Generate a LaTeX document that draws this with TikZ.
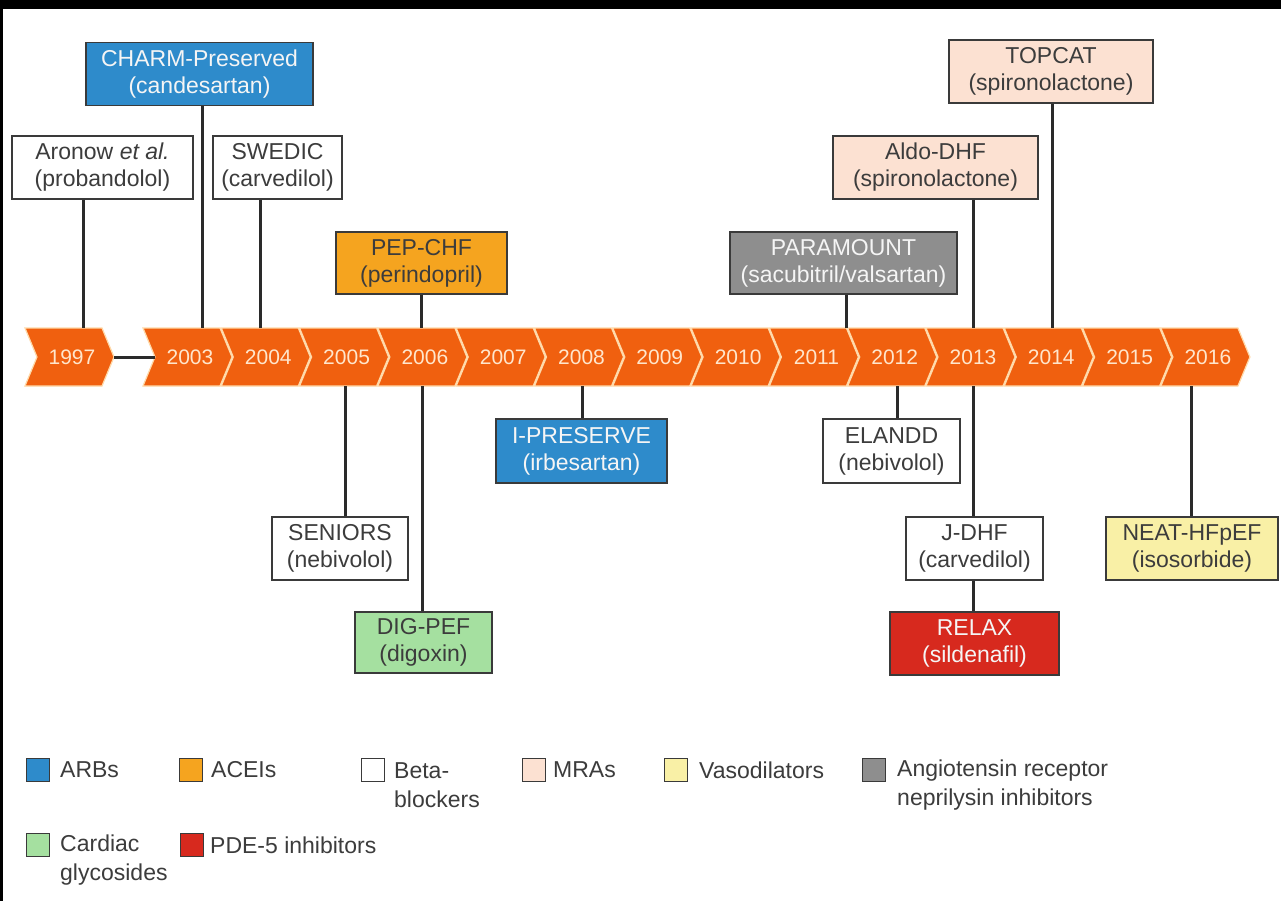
\documentclass[tikz,border=0pt]{standalone}
\usepackage{fontspec}
\setmainfont{Liberation Sans}
\definecolor{arb}{HTML}{2E8BCB}
\definecolor{ace}{HTML}{F5A41F}
\definecolor{mra}{HTML}{FCE1D2}
\definecolor{vaso}{HTML}{F9F0A6}
\definecolor{arni}{HTML}{8E8E8E}
\definecolor{glyco}{HTML}{A5E0A0}
\definecolor{pde}{HTML}{D7291E}
\definecolor{tl}{HTML}{F0600F}
\definecolor{cream}{HTML}{FFD9A8}
\definecolor{yeartext}{HTML}{FFE6CC}
\definecolor{boxline}{HTML}{3A3A3A}
\definecolor{txt}{HTML}{3C3C3C}
\definecolor{conn}{HTML}{2A2A2A}
\begin{document}
\begin{tikzpicture}[x=1pt,y=-1pt,
  box/.style={draw=boxline, line width=1.6pt, minimum height=63pt, align=center,
    inner sep=0pt, font=\fontsize{23}{27}\selectfont, text=txt},
  light/.style={text=white!92!gray},
  chev/.style={fill=tl, draw=cream, line width=1.2pt},
  yeartxt/.style={font=\fontsize{21}{25}\selectfont, text=yeartext, inner sep=0pt},
  link/.style={draw=conn, line width=3pt},
  legsq/.style={draw=boxline, line width=1.5pt, minimum width=23pt, minimum height=23pt, inner sep=0pt},
  legtxt/.style={font=\fontsize{23}{29}\selectfont, text=txt, anchor=west, align=left, inner sep=0pt}]
\useasboundingbox (0,0) rectangle (1281,901);
\fill[black] (0,0) rectangle (1281,901);
\fill[white] (3,9) rectangle (1281,901);

% timeline
\filldraw[chev] (25,328) -- ++(77,0) -- ++(12,29) -- ++(-12,29) -- ++(-77,0) -- ++(12,-29) -- cycle;
\node[yeartxt] (y1997) at (72,357) {1997};
\foreach \yr [count=\k from 0] in {2003,...,2016} {
  \pgfmathsetmacro\L{143+\k*78.3}
  \filldraw[chev] (\L,328) -- ++(77,0) -- ++(12,29) -- ++(-12,29) -- ++(-77,0) -- ++(12,-29) -- cycle;
  \node[yeartxt] (y\yr) at ({\L+47},357) {\yr};
}
\coordinate (tip1997) at (114,357);
\coordinate (notch2003) at (155,357);
\draw[link] (tip1997) -- (notch2003);

% boxes above
\node[box, fill=arb, light, minimum width=227pt] (charm) at (199.5,74) {CHARM-Preserved\\(candesartan)};
\node[box, fill=white, minimum width=181pt] (aronow) at (102.5,167.5) {Aronow \textit{et al.}\\(probandolol)};
\node[box, fill=white, minimum width=129pt] (swedic) at (277.5,167.5) {SWEDIC\\(carvedilol)};
\node[box, fill=ace, minimum width=171pt, minimum height=62pt] (pep) at (421.5,263) {PEP-CHF\\(perindopril)};
\node[box, fill=arni, light, minimum width=227pt, minimum height=62pt] (paramount) at (843.5,263) {PARAMOUNT\\(sacubitril/valsartan)};
\node[box, fill=mra, minimum width=205pt] (aldo) at (935.5,167.5) {Aldo-DHF\\(spironolactone)};
\node[box, fill=mra, minimum width=204pt] (topcat) at (1051,71.5) {TOPCAT\\(spironolactone)};

% boxes below
\node[box, fill=white, minimum width=136pt] (seniors) at (340,548.5) {SENIORS\\(nebivolol)};
\node[box, fill=glyco, minimum width=137pt, minimum height=61pt] (digpef) at (423.5,642.5) {DIG-PEF\\(digoxin)};
\node[box, fill=arb, light, minimum width=171pt, minimum height=64pt] (ipreserve) at (581.5,451) {I-PRESERVE\\(irbesartan)};
\node[box, fill=white, minimum width=137pt, minimum height=64pt] (elandd) at (891.5,451) {ELANDD\\(nebivolol)};
\node[box, fill=white, minimum width=137pt] (jdhf) at (974.5,548.5) {J-DHF\\(carvedilol)};
\node[box, fill=pde, light, minimum width=169pt] (relax) at (974.5,643.5) {RELAX\\(sildenafil)};
\node[box, fill=vaso, minimum width=172pt] (neat) at (1192,548.5) {NEAT-HFpEF\\(isosorbide)};

% connector end points on the timeline
\coordinate (t1997) at (83,328);
\coordinate (t2003) at (202,328);
\coordinate (t2004) at (260,328);
\coordinate (t2006) at (421,328);
\coordinate (t2011) at (846,328);
\coordinate (t2013) at (973,328);
\coordinate (t2014) at (1052,328);
\coordinate (b2005) at (345,386);
\coordinate (b2006) at (422,386);
\coordinate (b2008) at (582,386);
\coordinate (b2012) at (897,386);
\coordinate (b2013) at (973,386);
\coordinate (b2016) at (1191,386);

\draw[link] (aronow.south -| t1997) -- (t1997);
\draw[link] (charm.south -| t2003) -- (t2003);
\draw[link] (swedic.south -| t2004) -- (t2004);
\draw[link] (pep.south -| t2006) -- (t2006);
\draw[link] (paramount.south -| t2011) -- (t2011);
\draw[link] (aldo.south -| t2013) -- (t2013);
\draw[link] (topcat.south -| t2014) -- (t2014);
\draw[link] (b2005) -- (seniors.north -| b2005);
\draw[link] (b2006) -- (digpef.north -| b2006);
\draw[link] (b2008) -- (ipreserve.north -| b2008);
\draw[link] (b2012) -- (elandd.north -| b2012);
\draw[link] (b2013) -- (jdhf.north -| b2013);
\draw[link] (jdhf.south -| b2013) -- (relax.north -| b2013);
\draw[link] (b2016) -- (neat.north -| b2016);

% legend
\node[legsq, fill=arb] (lq1) at (38,770) {};
\node[legtxt] (lt1) at (60,770) {ARBs};
\node[legsq, fill=ace] (lq2) at (191,770) {};
\node[legtxt] (lt2) at (211,770) {ACEIs};
\node[legsq, fill=white] (lq3) at (373,770) {};
\node[legtxt] (lt3) at (394,785) {Beta-\\blockers};
\node[legsq, fill=mra] (lq4) at (534,770) {};
\node[legtxt] (lt4) at (553,770) {MRAs};
\node[legsq, fill=vaso] (lq5) at (676,770) {};
\node[legtxt] (lt5) at (699,770) {Vasodilators};
\node[legsq, fill=arni] (lq6) at (874,770) {};
\node[legtxt] (lt6) at (897,785) {Angiotensin receptor\\neprilysin inhibitors};
\node[legsq, fill=glyco] (lq7) at (38,845) {};
\node[legtxt] (lt7) at (60,860) {Cardiac\\glycosides};
\node[legsq, fill=pde] (lq8) at (192,845) {};
\node[legtxt] (lt8) at (210,845) {PDE-5 inhibitors};
\end{tikzpicture}
\end{document}
